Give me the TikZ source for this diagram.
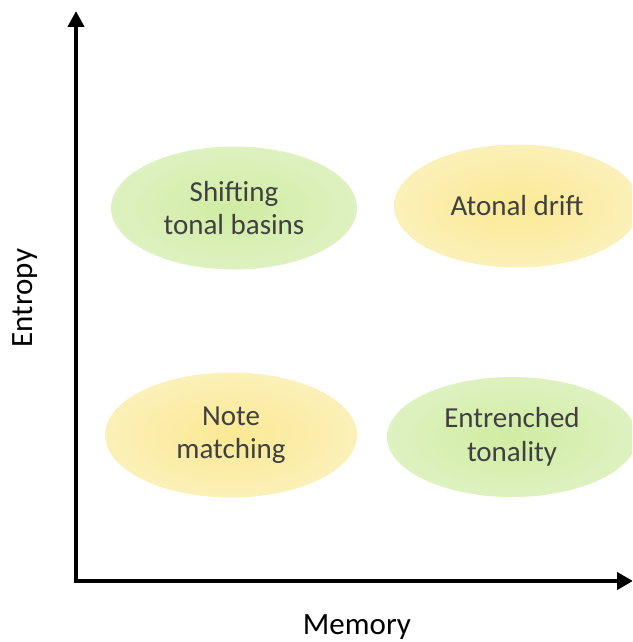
\documentclass[tikz,border=0pt]{standalone}
\usepackage{fontspec}
\setmainfont{Carlito}
\usetikzlibrary{shapes.geometric,arrows.meta}
\definecolor{gIn}{RGB}{208,236,162}
\definecolor{gOut}{RGB}{236,247,222}
\definecolor{yIn}{RGB}{250,233,148}
\definecolor{yOut}{RGB}{253,247,220}
\definecolor{txt}{RGB}{64,64,64}
\pgfdeclareradialshading{greenglow}{\pgfpoint{0bp}{0bp}}{color(0bp)=(gIn); color(50bp)=(gOut)}
\pgfdeclareradialshading{yellowglow}{\pgfpoint{0bp}{0bp}}{color(0bp)=(yIn); color(50bp)=(yOut)}
\tikzset{
  blob/.style={ellipse, inner sep=0pt, align=center, text=txt,
    font=\fontsize{29}{33.5}\selectfont},
  greenblob/.style={blob, shading=greenglow},
  yellowblob/.style={blob, shading=yellowglow},
  axis/.style={line width=4pt, line join=miter, {Triangle[length=16pt,width=16pt]}-{Triangle[length=16pt,width=17pt]}},
  axlabel/.style={font=\fontsize{31}{36}\selectfont, text=black, inner sep=0pt}
}
\begin{document}
\begin{tikzpicture}[x=1pt,y=-1pt]
\useasboundingbox (0,0) rectangle (632,642);
\clip (0,0) rectangle (632,642);
\node[greenblob, minimum width=246pt, minimum height=123pt] (shift) at (234,208) {Shifting\\tonal basins};
\node[yellowblob, minimum width=246pt, minimum height=123pt] (atonal) at (517,206) {Atonal drift};
\node[yellowblob, minimum width=252pt, minimum height=125pt] (note) at (231,435) {Note\\matching};
\node[greenblob, minimum width=250pt, minimum height=120pt] (entr) at (512,437) {Entrenched\\tonality};
\coordinate (O) at (76,581);
\coordinate (ytop) at (76,11);
\coordinate (xend) at (633,581);
\draw[axis] (ytop) -- (O) -- (xend);
\node[axlabel, rotate=90] (entropy) at (25,298) {Entropy};
\node[axlabel] (memory) at (357,627) {Memory};
\end{tikzpicture}
\end{document}
